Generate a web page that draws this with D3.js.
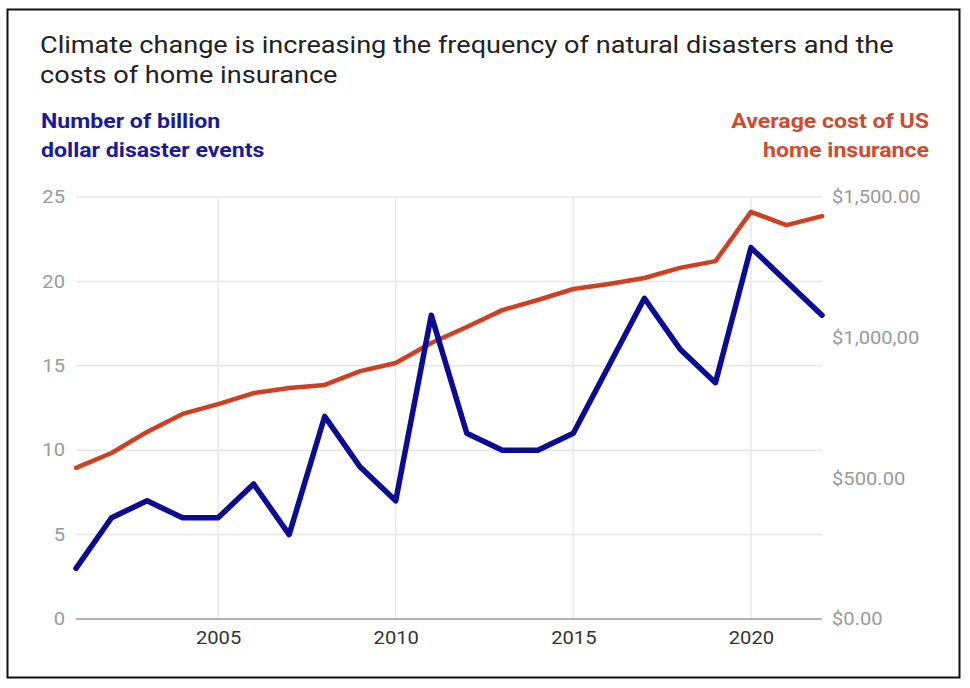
<!DOCTYPE html>
<html><head><meta charset="utf-8">
<script src="https://cdn.jsdelivr.net/npm/d3@7"></script>
<style>body{margin:0;background:#fff;} svg{display:block;font-family:Roboto,sans-serif;}</style>
</head><body>
<svg id="c" width="970" height="688"></svg>
<script>
const years = d3.range(2001, 2023);
const events = [3,6,7,6,6,8,5,12,9,7,18,11,10,10,11,15,19,16,14,22,20,18];
const cost = [537,590,665,729,764,803,821,832,881,910,981,1038,1098,1134,1173,1191,1212,1248,1272,1447,1400,1432];
const leftTicks = [0,5,10,15,20,25];
const rightTicks = [0,500,1000,1500];
const rightTickLabels = ["$0.00","$500.00","$1,000,00","$1,500.00"];
const xTicks = [2005,2010,2015,2020];
const stretch = 1.12;

const svg = d3.select("#c");
svg.append("rect").attr("x",7.5).attr("y",9.5).attr("width",952).attr("height",668)
  .attr("fill","none").attr("stroke","#111").attr("stroke-width",2);

const x = d3.scaleLinear().domain([2001,2022]).range([76,822]);
const yL = d3.scaleLinear().domain([0,25]).range([619,197]);
const yR = d3.scaleLinear().domain([0,1500]).range([619,197]);

// title
const t = svg.append("g").attr("transform","translate(40,0) scale(1.13,1)")
  .append("text").attr("fill","#222").attr("font-size",24);
t.append("tspan").attr("x",0).attr("y",53).text("Climate change is increasing the frequency of natural disasters and the");
t.append("tspan").attr("x",0).attr("y",83).text("costs of home insurance");

// legends
const l1 = svg.append("g").attr("transform","translate(41,0) scale(1.1,1)")
  .append("text").attr("fill","#1a1a9c").attr("font-size",21).attr("font-weight","bold");
l1.append("tspan").attr("x",0).attr("y",128).text("Number of billion");
l1.append("tspan").attr("x",0).attr("y",157).text("dollar disaster events");
const l2 = svg.append("g").attr("transform","translate(929,0) scale(1.1,1)")
  .append("text").attr("fill","#cf4a2e").attr("font-size",21).attr("font-weight","bold").attr("text-anchor","end");
l2.append("tspan").attr("x",0).attr("y",128).text("Average cost of US");
l2.append("tspan").attr("x",0).attr("y",157).text("home insurance");

// gridlines
const g = svg.append("g");
g.selectAll("line.h").data(leftTicks.filter(d=>d>0)).join("line")
  .attr("x1",76).attr("x2",822).attr("y1",d=>yL(d)).attr("y2",d=>yL(d))
  .attr("stroke","#e8e8e8").attr("stroke-width",1.5);
g.selectAll("line.v").data(xTicks).join("line")
  .attr("x1",d=>x(d)).attr("x2",d=>x(d)).attr("y1",197).attr("y2",619)
  .attr("stroke","#e8e8e8").attr("stroke-width",1.5);
g.append("line").attr("x1",76).attr("x2",822).attr("y1",yL(0)).attr("y2",yL(0))
  .attr("stroke","#999").attr("stroke-width",1.3);

// left axis
const ax = d3.axisLeft(yL).tickValues(leftTicks).tickSize(0).tickPadding(0);
const ga = svg.append("g").attr("transform","translate(65,0)").call(ax);
ga.select(".domain").remove();
ga.selectAll("text").attr("fill","#9a9a9a").attr("font-size",18).attr("font-family","Roboto,sans-serif")
  .attr("transform",`scale(${stretch},1)`);

// right axis
const axR = d3.axisRight(yR).tickValues(rightTicks).tickFormat((d,i)=>rightTickLabels[i]).tickSize(0).tickPadding(0);
const gr = svg.append("g").attr("transform","translate(832,0)").call(axR);
gr.select(".domain").remove();
gr.selectAll("text").attr("fill","#9a9a9a").attr("font-size",18).attr("font-family","Roboto,sans-serif")
  .attr("transform",`scale(${stretch},1)`);

// x axis
const axX = d3.axisBottom(x).tickValues(xTicks).tickFormat(d3.format("d")).tickSize(0).tickPadding(0);
const gx = svg.append("g").attr("transform","translate(0,631)").call(axX);
gx.select(".domain").remove();
gx.selectAll("text").attr("fill","#333").attr("font-size",18).attr("font-family","Roboto,sans-serif")
  .attr("transform",`scale(${stretch},1)`);

// lines
const lineR = d3.line().x((d,i)=>x(years[i])).y(d=>yR(d));
svg.append("path").datum(cost).attr("d",lineR).attr("fill","none")
  .attr("stroke","#cf3f22").attr("stroke-width",4.5).attr("stroke-linejoin","round").attr("stroke-linecap","round");
const lineL = d3.line().x((d,i)=>x(years[i])).y(d=>yL(d));
svg.append("path").datum(events).attr("d",lineL).attr("fill","none")
  .attr("stroke","#0b0b96").attr("stroke-width",5.5).attr("stroke-linejoin","round").attr("stroke-linecap","round");
</script>
</body></html>
